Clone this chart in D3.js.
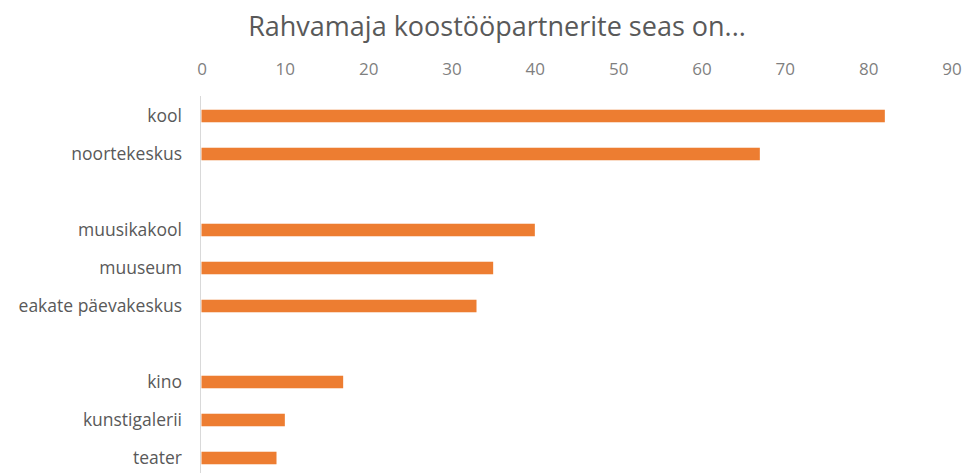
<!DOCTYPE html>
<html>
<head>
<meta charset="utf-8">
<script src="https://cdn.jsdelivr.net/npm/d3@7"></script>
<style>
  body { margin: 0; background: #fff; }
  svg { display: block; }
</style>
</head>
<body>
<script>
// Categories top to bottom; empty strings are the blank gap rows
var categories = ["kool", "noortekeskus", "", "muusikakool", "muuseum", "eakate päevakeskus", "", "kino", "kunstigalerii", "teater"];
var values = [82, 67, null, 40, 35, 33, null, 17, 10, 9];
var tickValues = [0, 10, 20, 30, 40, 50, 60, 70, 80, 90];

var svgWidth = 970;
var svgHeight = 473;

var svg = d3.select("body")
  .append("svg")
    .attr("width", svgWidth)
    .attr("height", svgHeight);

var font = "'Open Sans', 'Liberation Sans', sans-serif";

// title
svg.append("text")
  .attr("x", 497)
  .attr("y", 36)
  .attr("text-anchor", "middle")
  .style("font-family", font)
  .style("font-size", "27px")
  .style("fill", "#595959")
  .text("Rahvamaja koostööpartnerite seas on...");

var x = d3.scaleLinear().domain([0, 90]).range([201.5, 951.5]);
var y = d3.scaleBand()
  .domain(d3.range(categories.length))
  .range([97, 477])
  .paddingInner(0.67)
  .paddingOuter(0.335);

// top axis labels (no line, no ticks)
var topAxis = d3.axisTop(x).tickValues(tickValues).tickSize(0).tickPadding(0);
var gx = svg.append("g")
  .attr("transform", "translate(0, 75)")
  .call(topAxis);
gx.select(".domain").remove();
gx.selectAll("text")
  .style("font-family", font)
  .style("font-size", "17px")
  .style("fill", "#7f7f7f");

// vertical category axis line
svg.append("line")
  .attr("x1", x(0) - 1)
  .attr("x2", x(0) - 1)
  .attr("y1", 96)
  .attr("y2", svgHeight)
  .style("stroke", "#d9d9d9")
  .style("stroke-width", 1);

// bars
values.forEach(function(v, i) {
  if (v === null) return;
  svg.append("rect")
    .attr("class", "bar")
    .attr("x", x(0))
    .attr("y", y(i))
    .attr("height", y.bandwidth())
    .attr("width", x(v) - x(0))
    .style("fill", "#ed7d31");
});

// category labels
categories.forEach(function(c, i) {
  if (!c) return;
  svg.append("text")
    .attr("x", 182)
    .attr("y", y(i) + y.bandwidth() / 2)
    .attr("dy", "0.35em")
    .attr("text-anchor", "end")
    .style("font-family", font)
    .style("font-size", "17.5px")
    .style("fill", "#595959")
    .text(c);
});
</script>
</body>
</html>
